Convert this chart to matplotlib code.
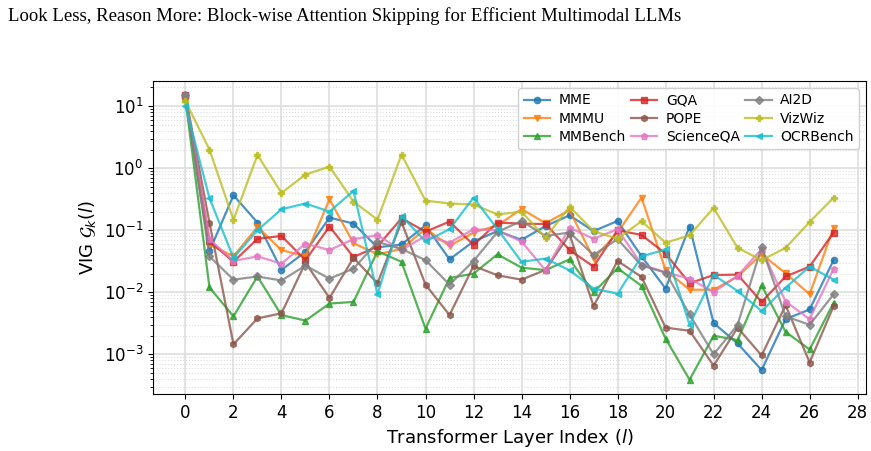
# -*- coding: utf-8 -*-
"""
VIG per transformer layer for nine multimodal benchmarks (log scale).
"""

import numpy as np
import matplotlib
matplotlib.use("Agg")
import matplotlib.pyplot as plt

plt.rcParams['font.family'] = 'DejaVu Sans'

# ------------------------------------------------------------------
# Data
# ------------------------------------------------------------------
layers = np.arange(28)

mme = [14, 0.046, 0.367, 0.133, 0.023, 0.045, 0.16, 0.128, 0.053, 0.059,
       0.12, 0.034, 0.066, 0.097, 0.07, 0.117, 0.174, 0.097, 0.141, 0.038,
       0.0115, 0.115, 0.0032, 0.0015, 0.00056, 0.0037, 0.0053, 0.033]
mmmu = [13, 0.059, 0.038, 0.113, 0.048, 0.038, 0.316, 0.062, 0.041, 0.05,
        0.106, 0.056, 0.092, 0.12, 0.22, 0.13, 0.21, 0.035, 0.092, 0.336,
        0.0228, 0.011, 0.011, 0.018, 0.041, 0.0203, 0.0093, 0.11]
mmbench = [13, 0.012, 0.0041, 0.018, 0.0043, 0.0035, 0.0066, 0.007, 0.046, 0.031,
           0.0026, 0.017, 0.020, 0.041, 0.025, 0.0228, 0.034, 0.01, 0.0245, 0.0127,
           0.0018, 0.00039, 0.002, 0.0017, 0.013, 0.0023, 0.0012, 0.0068]
gqa = [15, 0.067, 0.031, 0.073, 0.081, 0.033, 0.115, 0.037, 0.055, 0.156,
       0.095, 0.138, 0.058, 0.133, 0.128, 0.126, 0.048, 0.026, 0.1, 0.084,
       0.042, 0.014, 0.019, 0.0193, 0.007, 0.018, 0.026, 0.092]
pope = [15, 0.133, 0.00145, 0.0038, 0.0046, 0.030, 0.0081, 0.036, 0.014, 0.136,
        0.0133, 0.0043, 0.0266, 0.0188, 0.016, 0.023, 0.086, 0.006, 0.032, 0.0177,
        0.0027, 0.0024, 0.00066, 0.0027, 0.00096, 0.0062, 0.00074, 0.006]
scienceqa = [15, 0.072, 0.032, 0.038, 0.029, 0.061, 0.048, 0.072, 0.083, 0.048,
             0.081, 0.063, 0.104, 0.1, 0.066, 0.0226, 0.11, 0.073, 0.104, 0.028,
             0.021, 0.0166, 0.0101, 0.0183, 0.05, 0.0071, 0.0037, 0.024]
ai2d = [15, 0.038, 0.016, 0.018, 0.0155, 0.027, 0.0166, 0.024, 0.065, 0.05,
        0.033, 0.0133, 0.032, 0.094, 0.141, 0.081, 0.092, 0.040, 0.072, 0.027,
        0.0208, 0.0044, 0.001, 0.003, 0.054, 0.0041, 0.003, 0.0093]
vizwiz = [12, 2.0, 0.147, 1.64, 0.40, 0.79, 1.06, 0.29, 0.148, 1.66,
          0.30, 0.27, 0.26, 0.18, 0.199, 0.076, 0.24, 0.097, 0.073, 0.14,
          0.063, 0.083, 0.23, 0.052, 0.033, 0.052, 0.136, 0.336]
ocrbench = [10, 0.33, 0.036, 0.1, 0.218, 0.27, 0.2, 0.43, 0.0093, 0.17,
            0.066, 0.104, 0.336, 0.104, 0.031, 0.035, 0.0226, 0.0115, 0.0095, 0.038,
            0.049, 0.003, 0.019, 0.0105, 0.005, 0.0119, 0.026, 0.016]

names = ['MME', 'MMMU', 'MMBench', 'GQA', 'POPE', 'ScienceQA', 'AI2D', 'VizWiz', 'OCRBench']
series = [mme, mmmu, mmbench, gqa, pope, scienceqa, ai2d, vizwiz, ocrbench]
colors = ['C0', 'C1', 'C2', 'C3', 'C5', 'C6', 'C7', 'C8', 'C9']
markers = ['o', 'v', '^', 's', 'h', 'p', 'D', 'P', '<']

# ------------------------------------------------------------------
# Figure
# ------------------------------------------------------------------
fig = plt.figure(figsize=(8.71, 4.51), dpi=100)
ax = fig.add_axes([0.1757, 0.1264, 0.8186, 0.694])

for name, vals, c, m in zip(names, series, colors, markers):
    ax.plot(layers, vals, marker=m, color=c, label=name,
            linewidth=1.6, markersize=4.5, alpha=0.8)

ax.set_yscale('log')
ax.set_xticks(np.arange(0, 29, 2))
ax.set_xlabel('Transformer Layer Index ($l$)', fontsize=13)
ax.set_ylabel(r'VIG $\mathcal{G}_k(l)$', fontsize=13)
ax.tick_params(axis='both', which='major', labelsize=12)
ax.grid(True, which='major', linestyle='-', linewidth=1.2, color='0.87')
ax.grid(True, which='minor', axis='y', linestyle=':', linewidth=0.8, color='0.87')
ax.set_axisbelow(True)

ax.legend(loc='upper right', ncol=3, fontsize=10, framealpha=0.9,
          handlelength=1.9, handletextpad=0.6, borderpad=0.4,
          labelspacing=0.3, columnspacing=0.4)

fig.text(0.009, 0.965, 'Look Less, Reason More: Block-wise Attention Skipping for Efficient Multimodal LLMs',
         family='Liberation Serif', fontsize=13.5, va='center', ha='left')

plt.savefig('out.png', dpi=100)
plt.close(fig)
